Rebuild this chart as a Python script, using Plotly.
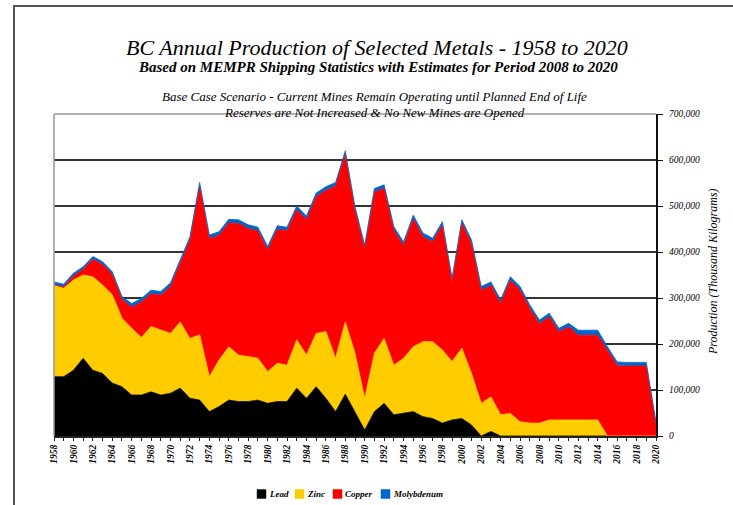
import plotly.graph_objects as go

years = list(range(1958, 2021))

# Thousand kilograms
lead = [129, 129, 143, 169, 143, 136, 115, 107, 89, 89, 96, 89, 93, 104, 82, 78,
        53, 64, 78, 75, 75, 78, 71, 75, 75, 104, 82, 107, 82, 53, 91,
        53, 13, 53, 71, 46, 49, 53, 42, 38, 28, 35, 38, 24, 0, 10, 0,
        0, 0, 0, 0, 0, 0, 0, 0, 0, 0, 0, 0, 0, 0, 0, 0]
zinc = [199, 192, 196, 181, 203, 192, 192, 149, 145, 125, 142, 141, 130, 144, 130, 142,
        76, 101, 116, 101, 97, 91, 69, 83, 79, 105, 94, 116, 145, 116, 157,
        127, 69, 127, 141, 108, 120, 141, 163, 167, 159, 127, 153, 112, 71, 75, 46,
        49, 31, 28, 28, 35, 35, 35, 35, 35, 35, 0, 0, 0, 0, 0, 0]
copper = [1, 3, 9, 12, 38, 45, 44, 41, 46, 77, 71, 76, 102, 127, 213, 323,
          300, 271, 269, 286, 279, 277, 264, 291, 292, 283, 294, 297, 307, 374, 364,
          310, 325, 350, 326, 293, 245, 278, 228, 217, 271, 173, 271, 282, 246, 242, 242,
          289, 286, 249, 216, 224, 191, 202, 184, 184, 184, 186, 153, 152, 152, 152, 25]
molybdenum = [6, 6, 6, 6, 6, 6, 6, 6, 8, 8, 8, 8, 8, 8, 8, 8,
              8, 8, 8, 8, 8, 8, 8, 8, 8, 8, 8, 8, 8, 8, 8,
              8, 8, 8, 8, 8, 8, 8, 8, 8, 8, 8, 8, 8, 8, 8, 8,
              8, 8, 8, 8, 8, 8, 8, 11, 11, 11, 8, 8, 8, 8, 8, 5]

names = ["Lead", "Zinc", "Copper", "Molybdenum"]
colors = ["#000000", "#FFCC00", "#FF0000", "#0066CC"]
values = [lead, zinc, copper, molybdenum]

serif = "Liberation Serif"
W, H = 733, 505
L, R, T, B = 54, 656, 114, 436  # plot area in pixels


def px(x):
    return (x - L) / (R - L)


def py(y):
    return (B - y) / (B - T)


fig = go.Figure()
for name, vals, col in zip(names, values, colors):
    fig.add_trace(go.Scatter(
        x=years, y=[v * 1000 for v in vals], name=name, mode="lines",
        stackgroup="one", line=dict(width=0.8, color=col), fillcolor=col,
        showlegend=False))

tickyears = list(range(1958, 2021, 2))
fig.update_layout(
    width=W, height=H,
    margin=dict(l=L, r=W - R, t=T, b=H - B),
    paper_bgcolor="white", plot_bgcolor="white",
    showlegend=False,
    xaxis=dict(range=[1958, 2020], tickmode="array", tickvals=tickyears,
               ticktext=["<b><i>%d</i></b>" % y for y in tickyears], tickangle=-90,
               tickfont=dict(family=serif, size=9.5, color="black"),
               showgrid=False, showline=True, linecolor="#222", linewidth=2,
               ticks="outside", ticklen=3, tickcolor="#222",
               minor=dict(dtick=1, ticks="outside", ticklen=3, tickcolor="#222"),
               zeroline=False, automargin=False),
    yaxis=dict(side="right", range=[0, 700000], dtick=100000,
               tickmode="array", tickvals=list(range(0, 700001, 100000)),
               ticktext=["<i>%s</i>" % format(v, ",d") for v in range(0, 700001, 100000)],
               tickfont=dict(family=serif, size=9.5, color="black"),
               ticklabelstandoff=4,
               showgrid=True, gridcolor="#333", gridwidth=1.5,
               showline=True, linecolor="#111", linewidth=2,
               ticks="outside", ticklen=5, tickcolor="#111",
               zeroline=False, automargin=False),
)

# plot-area border (left/top in gray)
fig.add_shape(type="line", xref="paper", yref="paper", x0=0, x1=0, y0=0, y1=1,
              line=dict(color="#999", width=1.5))
fig.add_shape(type="line", xref="paper", yref="paper", x0=0, x1=1, y0=1, y1=1,
              line=dict(color="#999", width=1.5))
# outer frame
fig.add_shape(type="rect", xref="paper", yref="paper", x0=px(14), x1=px(W + 20),
              y0=py(H + 20), y1=py(6),
              line=dict(color="#555", width=2), fillcolor="rgba(0,0,0,0)", layer="below")

# y-axis title
fig.add_annotation(text="<i>Production (Thousand Kilograms)</i>", textangle=-90,
                   xref="paper", yref="paper", x=px(722), y=py(272), showarrow=False,
                   font=dict(family=serif, size=12, color="black"))

# titles
fig.add_annotation(text="<i>BC Annual Production of Selected Metals - 1958 to 2020</i>",
                   xref="paper", yref="paper", x=px(377), y=py(33), showarrow=False,
                   font=dict(family=serif, size=22, color="black"))
fig.add_annotation(text="<b><i>Based on MEMPR Shipping Statistics with Estimates for Period 2008 to 2020</i></b>",
                   xref="paper", yref="paper", x=px(378), y=py(57), showarrow=False,
                   font=dict(family=serif, size=15, color="black"))
fig.add_annotation(text="<i>Base Case Scenario - Current Mines Remain Operating until Planned End of Life</i>",
                   xref="paper", yref="paper", x=px(374), y=py(87), showarrow=False,
                   font=dict(family=serif, size=13, color="black"))
fig.add_annotation(text="<i>Reserves are Not Increased &amp; No New Mines are Opened</i>",
                   xref="paper", yref="paper", x=px(374), y=py(103), showarrow=False,
                   font=dict(family=serif, size=13, color="black"))

# legend (manual)
legend_x = [257, 295, 333, 381]
for name, col, lx in zip(names, colors, legend_x):
    fig.add_shape(type="rect", xref="paper", yref="paper",
                  x0=px(lx), x1=px(lx + 9), y0=py(498.5), y1=py(489.5),
                  line=dict(color="#222" if col == "#000000" else col, width=0.5),
                  fillcolor=col)
    fig.add_annotation(text="<b><i>%s</i></b>" % name, xref="paper", yref="paper",
                       x=px(lx + 10), y=py(494), xanchor="left", yanchor="middle",
                       showarrow=False, font=dict(family=serif, size=9, color="black"))

fig.write_html("out.html", config={"displayModeBar": False},
               post_script="document.body.style.margin='0';document.body.style.overflow='hidden';")
